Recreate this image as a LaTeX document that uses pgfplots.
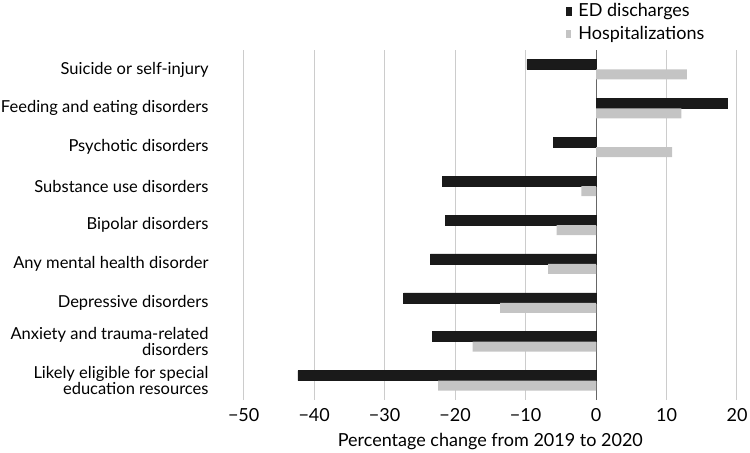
\documentclass[border=0pt]{standalone}
\usepackage{fontspec}
\setmainfont{Lato}
\usepackage{pgfplots}
\pgfplotsset{compat=1.18}
\definecolor{edc}{HTML}{1A1A1A}
\definecolor{hoc}{HTML}{C4C4C4}
\definecolor{gridc}{HTML}{CCCCCC}
\begin{document}
\fontsize{18bp}{20bp}\selectfont
\begin{tikzpicture}
\path[use as bounding box] (-243.7bp,-53bp) rectangle (506.3bp,400bp);
\begin{axis}[
  scale only axis,
  width=493.3bp, height=350bp,
  xbar=0pt, bar width=10bp,
  xmin=-50, xmax=20,
  ymin=-0.5, ymax=8.5,
  y dir=reverse,
  axis line style={draw=none},
  xtick={-50,-40,-30,-20,-10,0,10,20},
  xticklabels={−50,−40,−30,−20,−10,0,10,20},
  ytick={0,1,2,3,4,5,6,7,8},
  yticklabels={Suicide or self-injury,Feeding and eating disorders,Psychotic disorders,Substance use disorders,Bipolar disorders,Any mental health disorder,Depressive disorders,Anxiety and trauma-related\\disorders,Likely eligible for special\\education resources},
  yticklabel style={align=right, font=\fontsize{16.5bp}{16.5bp}\selectfont, xshift=-29bp},
  xticklabel style={font=\fontsize{18bp}{20bp}\selectfont, yshift=-2bp},
  major tick length=0pt,
  xmajorgrids, grid style={gridc, line width=1bp},
  extra x ticks={0}, extra x tick labels={},
  extra x tick style={grid style={draw=gray!80!black, line width=1bp}},
  xlabel={Percentage change from 2019 to 2020},
  xlabel style={font=\fontsize{18bp}{20bp}\selectfont, yshift=0bp},
  legend style={draw=none, fill=none, at={(0.653,1.14)}, anchor=north west,
    font=\fontsize{18bp}{20bp}\selectfont, row sep=3bp, inner sep=0pt,
    /tikz/every odd column/.append style={column sep=5bp}},
  legend cell align=left,
  legend image code/.code={\fill[#1] (0bp,-4bp) rectangle (5bp,4bp);},
]
\addplot[fill=edc, draw=black!90, line width=0.4bp, bar shift=5bp] coordinates {
(-9.8,0) (18.6,1) (-6.1,2) (-21.8,3) (-21.4,4) (-23.5,5) (-27.3,6) (-23.2,7) (-42.3,8)};
\addplot[fill=hoc, draw=none, bar shift=-5bp] coordinates {
(12.9,0) (12.1,1) (10.8,2) (-2.1,3) (-5.6,4) (-6.8,5) (-13.6,6) (-17.5,7) (-22.4,8)};
\legend{ED discharges, Hospitalizations}
\end{axis}
\end{tikzpicture}
\end{document}
